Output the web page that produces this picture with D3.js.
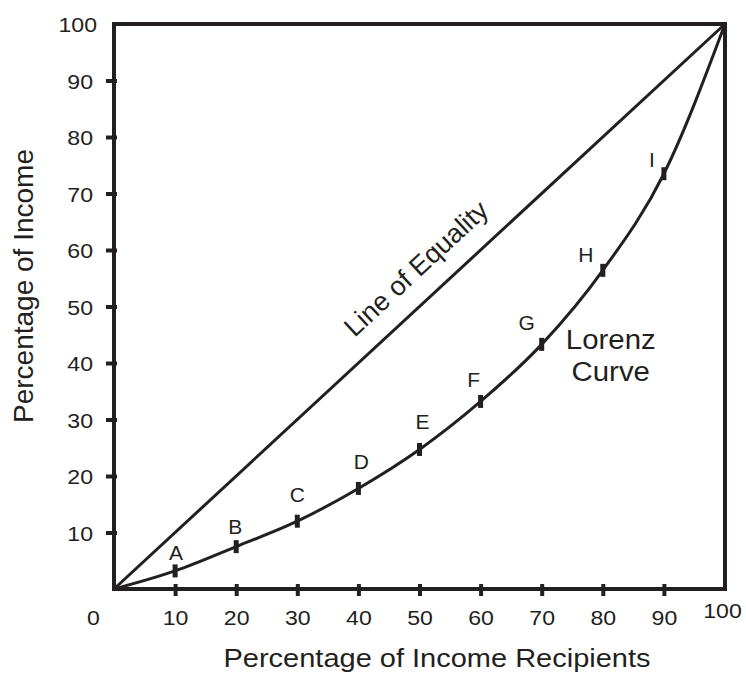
<!DOCTYPE html>
<html>
<head>
<meta charset="utf-8">
<script src="https://cdn.jsdelivr.net/npm/d3@7"></script>
<style>
  html, body { margin: 0; padding: 0; background: #fff; }
  svg { display: block; font-family: "Liberation Sans", Arial, sans-serif; }
</style>
</head>
<body>
<svg id="chart" width="746" height="673"></svg>
<script>
// data
const pointLabels = ['A', 'B', 'C', 'D', 'E', 'F', 'G', 'H', 'I'];
const recipientShare = [10, 20, 30, 40, 50, 60, 70, 80, 90];
const incomeShare = [3.2, 7.5, 12.0, 17.8, 24.7, 33.2, 43.3, 56.4, 73.5];
const equalityLine = [[0, 0], [100, 100]];
const xTicks = [0, 10, 20, 30, 40, 50, 60, 70, 80, 90, 100];
const yTicks = [10, 20, 30, 40, 50, 60, 70, 80, 90, 100];

(function () {
    'use strict';

    const INK = '#231f20';
    const FONT = '"Liberation Sans", Arial, sans-serif';
    const svg = d3.select('#chart');

    const x = d3.scaleLinear().domain([0, 100]).range([114, 725]);
    const y = d3.scaleLinear().domain([0, 100]).range([589, 24]);

    // curve passes through origin, the lettered points and the top corner
    const lorenz = [[0, 0]]
        .concat(recipientShare.map((r, i) => [r, incomeShare[i]]))
        .concat([[100, 100]]);

    // frame
    svg.append('rect')
        .attr('x', x(0)).attr('y', y(100))
        .attr('width', x(100) - x(0)).attr('height', y(0) - y(100))
        .attr('fill', 'none').attr('stroke', INK).attr('stroke-width', 4);

    // x axis
    const xAxis = svg.append('g')
        .attr('transform', `translate(0,${y(0)})`)
        .call(d3.axisBottom(x).tickValues(xTicks).tickSize(0).tickFormat(d3.format('d')))
        .attr('font-family', FONT);
    xAxis.select('.domain').remove();
    xAxis.selectAll('.tick line')
        .attr('y1', -5).attr('y2', 7)
        .attr('stroke', INK).attr('stroke-width', 4)
        .attr('display', d => (d === 0 || d === 100) ? 'none' : null);
    xAxis.selectAll('.tick text')
        .attr('y', 0).attr('dy', null)
        .attr('fill', INK).attr('font-size', 21)
        .attr('transform', d => {
            let dx = 0, by = 36;
            if (d === 0) dx = -21;
            if (d === 100) { dx = -3; by = 29; }
            return `translate(${dx},${by}) scale(1.1,1)`;
        });

    // y axis
    const yAxis = svg.append('g')
        .attr('transform', `translate(${x(0)},0)`)
        .call(d3.axisLeft(y).tickValues(yTicks).tickSize(0).tickFormat(d3.format('d')))
        .attr('font-family', FONT);
    yAxis.select('.domain').remove();
    yAxis.selectAll('.tick line')
        .attr('x1', -8).attr('x2', 3)
        .attr('stroke', INK).attr('stroke-width', 4)
        .attr('display', d => d === 100 ? 'none' : null);
    yAxis.selectAll('.tick text')
        .attr('x', 0).attr('dy', null)
        .attr('fill', INK).attr('font-size', 21)
        .attr('text-anchor', 'end')
        .attr('transform', d => `translate(${d === 100 ? -17 : -21},7.5) scale(1.1,1)`);

    // line of equality
    const line = d3.line().x(d => x(d[0])).y(d => y(d[1]));
    svg.append('path')
        .datum(equalityLine)
        .attr('d', line)
        .attr('fill', 'none').attr('stroke', INK).attr('stroke-width', 3);

    const angle = Math.atan2(y(100) - y(0), x(100) - x(0)) * 180 / Math.PI;
    svg.append('text')
        .attr('transform', `translate(${x(52.8)},${y(52.8)}) rotate(${angle})`)
        .attr('y', -21)
        .attr('text-anchor', 'middle')
        .attr('font-size', 27)
        .attr('fill', INK)
        .text('Line of Equality');

    // lorenz curve
    svg.append('path')
        .datum(lorenz)
        .attr('d', line.curve(d3.curveMonotoneX))
        .attr('fill', 'none').attr('stroke', INK).attr('stroke-width', 3);

    svg.selectAll('.marker')
        .data(recipientShare)
        .enter()
        .append('rect')
        .attr('class', 'marker')
        .attr('x', (d) => x(d) - 2.5)
        .attr('y', (d, i) => y(incomeShare[i]) - 6.5)
        .attr('width', 5)
        .attr('height', 13)
        .attr('fill', INK);

    // letter labels sit a little above / left of their markers
    const labelNudge = [[1, -18], [-1, -20], [0, -27], [3, -27], [3, -28], [-7, -22], [-15, -22], [-17, -16], [-12, -14]];
    svg.selectAll('.point-label')
        .data(pointLabels)
        .enter()
        .append('text')
        .attr('class', 'point-label')
        .attr('x', (d, i) => x(recipientShare[i]) + labelNudge[i][0])
        .attr('y', (d, i) => y(incomeShare[i]) + labelNudge[i][1] + 7.5)
        .attr('text-anchor', 'middle')
        .attr('font-size', 21)
        .attr('fill', INK)
        .text(d => d);

    const curveLabel = svg.append('text')
        .attr('text-anchor', 'middle')
        .attr('font-size', 28)
        .attr('fill', INK)
        .attr('transform', `translate(${x(81.3)},${y(42.5)}) scale(1.05,1)`);
    curveLabel.append('tspan').attr('x', 0).attr('y', 0).text('Lorenz');
    curveLabel.append('tspan').attr('x', 0).attr('y', 32).text('Curve');

    // axis titles
    svg.append('text')
        .attr('transform', 'translate(437,667) scale(1.16,1)')
        .attr('text-anchor', 'middle')
        .attr('font-size', 25)
        .attr('fill', INK)
        .text('Percentage of Income Recipients');

    svg.append('text')
        .attr('transform', 'translate(33,286) rotate(-90)')
        .attr('text-anchor', 'middle')
        .attr('font-size', 28)
        .attr('fill', INK)
        .text('Percentage of Income');
})();
</script>
</body>
</html>
